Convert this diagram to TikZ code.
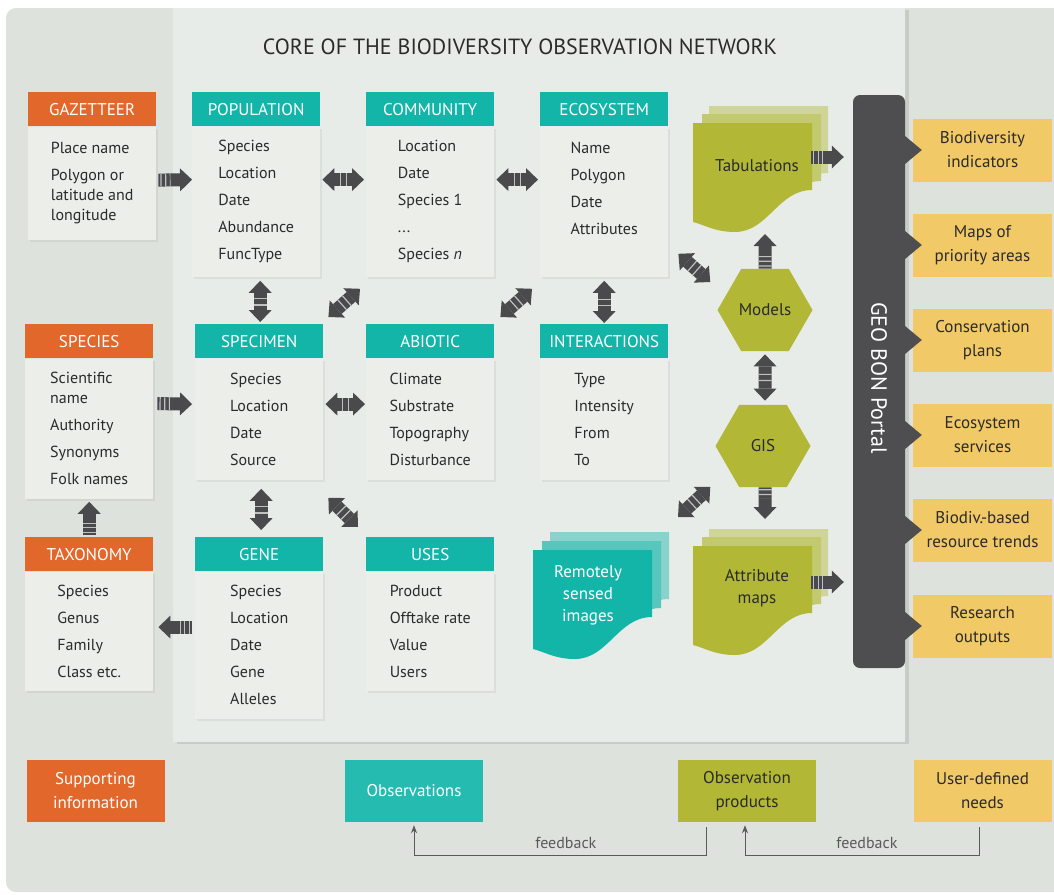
\documentclass[tikz,border=0pt]{standalone}
\usepackage{fontspec}
\setmainfont{PT Sans}
\usetikzlibrary{positioning,calc,arrows.meta,shapes.geometric,shadows}

\definecolor{bggrey}{HTML}{DDE2DC}
\definecolor{coregrey}{HTML}{E7ECE9}
\definecolor{boxgrey}{HTML}{ECEEEA}
\definecolor{orng}{HTML}{E2672B}
\definecolor{tealc}{HTML}{13B5A9}
\definecolor{olive}{HTML}{B2B836}
\definecolor{yell}{HTML}{F1C966}
\definecolor{portalgrey}{HTML}{4E4E51}
\definecolor{arrgrey}{HTML}{4A4A4C}
\definecolor{txtgrey}{HTML}{2B2B2B}
\definecolor{fbgrey}{HTML}{5A5A5A}

\tikzset{
  hdr/.style={anchor=north west, minimum width=128pt, minimum height=34pt,
    inner sep=0pt, text=white, font=\fontsize{17}{20}\selectfont},
  tbody/.style={anchor=north, fill=boxgrey, minimum width=128pt, inner sep=0pt,
    align=left, text=txtgrey, font=\fontsize{16}{20}\selectfont,
    drop shadow={shadow xshift=1.5pt, shadow yshift=-2pt, opacity=0.12}},
  outbox/.style={fill=yell, minimum width=139pt, minimum height=63pt, inner sep=0pt,
    align=center, text=txtgrey, font=\fontsize{17}{24}\selectfont},
  legbox/.style={minimum width=138pt, minimum height=62pt, inner sep=0pt,
    align=center, font=\fontsize{17}{24}\selectfont},
  hexa/.style={regular polygon, regular polygon sides=6, minimum size=95pt,
    inner sep=0pt, fill=olive, text=txtgrey, font=\fontsize{17}{20}\selectfont},
  doctext/.style={align=center, font=\fontsize{17}{22}\selectfont},
  blk/.style={draw=arrgrey, line width=13pt,
    -{Triangle[length=12pt,width=23pt,line width=0pt]}},
  dblk/.style={blk, {Triangle[length=12pt,width=23pt,line width=0pt]}-{Triangle[length=12pt,width=23pt,line width=0pt]}},
  stripes/.style={draw=arrgrey!35!white, line width=13pt, dash pattern=on 1.2pt off 3.5pt},
  fb/.style={draw=fbgrey, line width=1pt, -{Stealth[length=8pt,width=6pt]}},
  fblabel/.style={above, yshift=3pt, text=fbgrey, font=\fontsize{16}{18}\selectfont}
}

% block arrow with striped tail
\newcommand{\bigarrow}[2]{%
  \coordinate (ba) at (#1); \coordinate (bb) at (#2);
  \draw[blk] (ba) -- (bb);
  \draw[stripes] ($(ba)!0.06!(bb)$) -- ($(ba)!0.36!(bb)$);}
% block arrow with two heads
\newcommand{\twoarrow}[2]{%
  \coordinate (ba) at (#1); \coordinate (bb) at (#2);
  \draw[dblk] (ba) -- (bb);
  \draw[stripes, dash pattern=on 1.2pt off 5pt] ($(ba)!0.42!(bb)$) -- ($(ba)!0.6!(bb)$);}
% stacked sheet with wavy foot
\newcommand{\docshape}[2]{(#1,#2) -- ++(119,0) -- ++(0,67)
  .. controls +(-34,0) and +(33,0) .. ++(-77,42)
  .. controls +(-20,0) and +(12,3) .. ++(-42,-10) -- cycle}
\newcommand{\rowbreak}{\\[7pt]}

\begin{document}
\begin{tikzpicture}[x=1pt, y=-1pt]
\useasboundingbox (0,0) rectangle (1054,894);
\fill[white] (0,0) rectangle (1054,894);

% Background and core panel
\fill[bggrey, rounded corners=10pt] (6,8) rectangle (1070,892);
\path[fill=coregrey, drop shadow={shadow xshift=4pt, shadow yshift=-2pt, opacity=0.22}]
  (173,8) rectangle (905,742);
\node[font=\fontsize{22}{26}\selectfont, text=txtgrey] (title) at (520,47)
  {CORE OF THE BIODIVERSITY OBSERVATION NETWORK};

% Top row of tables
\node[hdr, fill=orng] (gazh) at (28,92) {GAZETTEER};
\node[tbody, minimum height=113pt] (gazb) at (gazh.south)
  {Place name\rowbreak Polygon or\\latitude and\\longitude};

\node[hdr, fill=tealc] (poph) at (192,92) {POPULATION};
\node[tbody, minimum height=150pt] (popb) at (poph.south)
  {Species\rowbreak Location\rowbreak Date\rowbreak Abundance\rowbreak FuncType};

\node[hdr, fill=tealc] (commh) at (366,92) {COMMUNITY};
\node[tbody, minimum height=150pt] (commb) at (commh.south)
  {Location\rowbreak Date\rowbreak Species 1\rowbreak ...\rowbreak Species \textit{n}};

\node[hdr, fill=tealc] (ecoh) at (540,92) {ECOSYSTEM};
\node[tbody, minimum height=150pt] (ecob) at (ecoh.south)
  {Name\rowbreak Polygon\rowbreak Date\rowbreak Attributes\rowbreak\mbox{}};

% Middle row of tables
\node[hdr, fill=orng] (spph) at (25,324) {SPECIES};
\node[tbody, minimum height=140pt] (sppb) at (spph.south)
  {Scientific\\name\rowbreak Authority\rowbreak Synonyms\rowbreak Folk names};

\node[hdr, fill=tealc] (spech) at (195,324) {SPECIMEN};
\node[tbody, minimum height=121pt] (specb) at (spech.south)
  {Species\rowbreak Location\rowbreak Date\rowbreak Source};

\node[hdr, fill=tealc] (abih) at (366,324) {ABIOTIC};
\node[tbody, minimum height=121pt] (abib) at (abih.south)
  {Climate\rowbreak Substrate\rowbreak Topography\rowbreak Disturbance};

\node[hdr, fill=tealc] (inth) at (540,324) {INTERACTIONS};
\node[tbody, minimum height=121pt] (intb) at (inth.south)
  {Type\rowbreak Intensity\rowbreak From\rowbreak To};

% Bottom row of tables
\node[hdr, fill=orng] (taxh) at (25,537) {TAXONOMY};
\node[tbody, minimum height=119pt] (taxb) at (taxh.south)
  {Species\rowbreak Genus\rowbreak Family\rowbreak Class etc.};

\node[hdr, fill=tealc] (geneh) at (195,537) {GENE};
\node[tbody, minimum height=147pt] (geneb) at (geneh.south)
  {Species\rowbreak Location\rowbreak Date\rowbreak Gene\rowbreak Alleles};

\node[hdr, fill=tealc] (useh) at (366,537) {USES};
\node[tbody, minimum height=119pt] (useb) at (useh.south)
  {Product\rowbreak Offtake rate\rowbreak Value\rowbreak Users};

% Stacked sheets
\fill[olive!45!coregrey] \docshape{709}{106};
\fill[olive!68!coregrey] \docshape{702}{114};
\fill[olive] \docshape{693}{123};
\node[doctext, text=txtgrey] (tab) at (757,166) {Tabulations};
\coordinate (tabfoot) at (765,234);
\coordinate (tabside) at (811,157);

\fill[olive!45!coregrey] \docshape{709}{529};
\fill[olive!68!coregrey] \docshape{702}{537};
\fill[olive] \docshape{693}{546};
\node[doctext, text=txtgrey] (amaps) at (757,588) {Attribute\\maps};
\coordinate (amapstop) at (765,519);
\coordinate (amapside) at (811,582);

\fill[tealc!45!coregrey] \docshape{550}{532};
\fill[tealc!68!coregrey] \docshape{542}{541};
\fill[tealc] \docshape{533}{550};
\node[doctext, text=white] (rsi) at (588,595) {Remotely\\sensed\\images};
\coordinate (rsicorner) at (670,530);

% Models and GIS
\node[hexa] (models) at (765,310) {Models};
\node[hexa] (gis) at (763,446) {GIS};

% Portal and outputs
\node[fill=portalgrey, rounded corners=7pt, minimum width=52pt, minimum height=573pt,
  inner sep=0pt] (portal) at (879,381.5) {};
\node[rotate=-90, text=white, font=\fontsize{22}{24}\selectfont] (portaltxt)
  at (879,378) {GEO BON Portal};

\node[outbox] (indic) at (982.5,150) {Biodiversity\\indicators};
\node[outbox] (prio) at (982.5,245) {Maps of\\priority areas};
\node[outbox] (plans) at (982.5,340) {Conservation\\plans};
\node[outbox] (servs) at (982.5,435) {Ecosystem\\services};
\node[outbox] (trends) at (982.5,530) {Biodiv.-based\\resource trends};
\node[outbox] (resout) at (982.5,626) {Research\\outputs};
\foreach \o in {indic,prio,plans,servs,trends,resout}
  \fill[portalgrey] ($(\o.west)+(-9,-15)$) -- ($(\o.west)+(9,0)$)
    -- ($(\o.west)+(-9,15)$) -- cycle;

% Block arrows between tables
\bigarrow{$(gazb.east)+(2,-3)$}{$(popb.west)+(0,-22)$}
\twoarrow{$(popb.east)+(2,-22)$}{$(commb.west)+(-2,-22)$}
\twoarrow{$(commb.east)+(2,-22)$}{$(ecob.west)+(-2,-22)$}
\twoarrow{$(popb.south)+(4,4)$}{$(spech.north)+(1,-2)$}
\twoarrow{$(spech.north east)+(5,-7)$}{$(commb.south west)+(-6,12)$}
\twoarrow{$(abih.north east)+(6,-7)$}{$(ecob.south west)+(-8,12)$}
\twoarrow{$(ecob.south)+(0,4)$}{$(inth.north)+(0,-1)$}
\twoarrow{$(specb.east)+(2,-15)$}{$(abib.west)+(-1,-15)$}
\bigarrow{$(sppb.east)+(4,-25)$}{$(specb.west)+(-3,-15)$}
\bigarrow{$(taxh.north)+(0,-2)$}{$(sppb.south)+(0,3)$}
\twoarrow{$(specb.south)+(2,9)$}{$(geneh.north)+(2,-7)$}
\twoarrow{$(specb.south east)+(5,18)$}{$(useh.north west)+(-8,-10)$}
\bigarrow{$(geneb.west)+(-3,-18)$}{$(taxb.east)+(5,-4)$}

% Block arrows on the product side
\twoarrow{$(ecob.south east)+(10,-23)$}{$(models.west)+(-7,-28)$}
\bigarrow{models.north}{tabfoot}
\twoarrow{$(models.south)+(0,3)$}{$(gis.north)+(2,-4)$}
\bigarrow{$(gis.south)+(2,0)$}{amapstop}
\twoarrow{$(rsicorner)+(8,-13)$}{$(gis.west)+(-5,41)$}
\bigarrow{tabside}{$(tabside -| portal.west)+(-9,0)$}
\bigarrow{amapside}{$(amapside -| portal.west)+(-9,0)$}

% Legend and feedback
\node[legbox, fill=orng, text=white] (supp) at (95.5,791) {Supporting\\information};
\node[legbox, fill=tealc!92!white, text=white] (obs) at (414,791) {Observations};
\node[legbox, fill=olive, text=txtgrey] (obsp) at (747,791) {Observation\\products};
\node[legbox, fill=yell, text=txtgrey] (userd) at (982.5,791) {User-defined\\needs};

\draw[fb] ($(obsp.south)+(-41,5)$) -- ++(0,28)
  -| node[pos=0.24, fblabel] {feedback} ($(obs.south)+(0,3)$);
\draw[fb] ($(userd.south)+(-3,5)$) -- ++(0,28)
  -| node[pos=0.24, fblabel] {feedback} ($(obsp.south)+(-2,3)$);
\end{tikzpicture}
\end{document}
